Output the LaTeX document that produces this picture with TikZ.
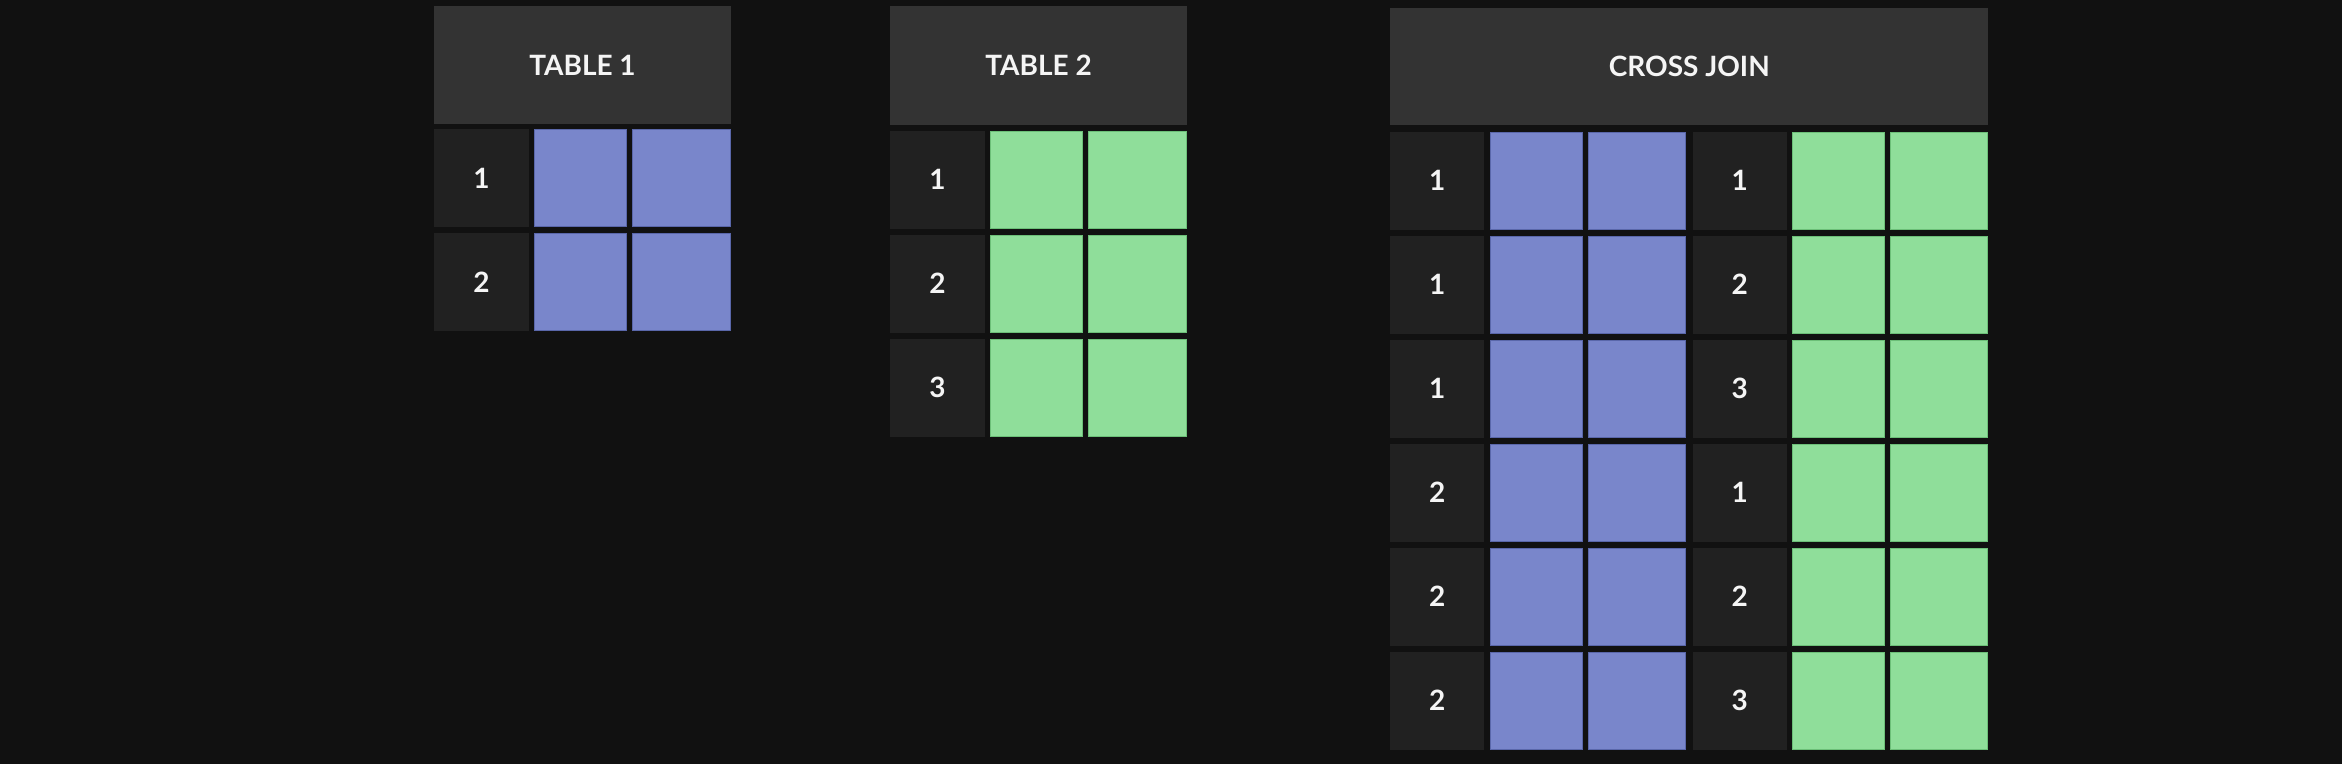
\documentclass[tikz,border=0pt]{standalone}
\usepackage{fontspec}
\setmainfont{Lato}
\definecolor{bgc}{HTML}{111111}
\definecolor{hdrc}{HTML}{333333}
\definecolor{keyc}{HTML}{212121}
\definecolor{bluec}{HTML}{7986CB}
\definecolor{bluee}{HTML}{5A67AA}
\definecolor{greenc}{HTML}{8FDE9A}
\definecolor{greene}{HTML}{6CBF78}
\definecolor{txtc}{HTML}{F5F5F5}
\tikzset{
  base/.style={anchor=north west, inner sep=0pt, outer sep=0pt},
  hdrcell/.style={base, fill=hdrc, text=txtc, font=\fontsize{28}{32}\selectfont\bfseries},
  keycell/.style={base, fill=keyc, text=txtc, font=\fontsize{28}{32}\selectfont\bfseries, minimum height=98pt},
  bluecell/.style={base, fill=bluec, draw=bluee, line width=1pt, minimum height=97pt},
  greencell/.style={base, fill=greenc, draw=greene, line width=1pt, minimum height=97pt}
}
\begin{document}
\begin{tikzpicture}[x=1pt,y=-1pt]
\fill[bgc] (0,0) rectangle (2342,764);
\useasboundingbox (0,0) rectangle (2342,764);

% TABLE 1
\node[hdrcell, minimum width=297pt, minimum height=118pt] (t1h) at (434,6) {TABLE 1};
\foreach \i/\k in {0/1,1/2} {
  \pgfmathsetmacro\yy{129.3+104*\i}
  \node[keycell, minimum width=95pt] (t1k\i) at (434,\yy) {\k};
  \node[bluecell, minimum width=91.4pt] (t1a\i) at (534.8,\yy+0.5) {};
  \node[bluecell, minimum width=98pt] (t1b\i) at (632.5,\yy+0.5) {};
}

% TABLE 2
\node[hdrcell, minimum width=297pt, minimum height=118.7pt] (t2h) at (890,6) {TABLE 2};
\foreach \i/\k in {0/1,1/2,2/3} {
  \pgfmathsetmacro\yy{130.7+104*\i}
  \node[keycell, minimum width=95pt] (t2k\i) at (890,\yy) {\k};
  \node[greencell, minimum width=91.4pt] (t2a\i) at (990.8,\yy+0.5) {};
  \node[greencell, minimum width=98pt] (t2b\i) at (1088.5,\yy+0.5) {};
}

% CROSS JOIN
\node[hdrcell, minimum width=598pt, minimum height=117.3pt] (cjh) at (1390.3,8) {CROSS JOIN};
\foreach \i/\a/\b in {0/1/1,1/1/2,2/1/3,3/2/1,4/2/2,5/2/3} {
  \pgfmathsetmacro\yy{131.7+104*\i}
  \node[keycell, minimum width=94pt] (cka\i) at (1390.3,\yy) {\a};
  \node[bluecell, minimum width=91.2pt] (cba\i) at (1490.8,\yy+0.5) {};
  \node[bluecell, minimum width=97pt] (cbb\i) at (1588.9,\yy+0.5) {};
  \node[keycell, minimum width=94pt] (ckb\i) at (1692.8,\yy) {\b};
  \node[greencell, minimum width=91.2pt] (cga\i) at (1792.9,\yy+0.5) {};
  \node[greencell, minimum width=97pt] (cgb\i) at (1890.5,\yy+0.5) {};
}
\end{tikzpicture}
\end{document}
